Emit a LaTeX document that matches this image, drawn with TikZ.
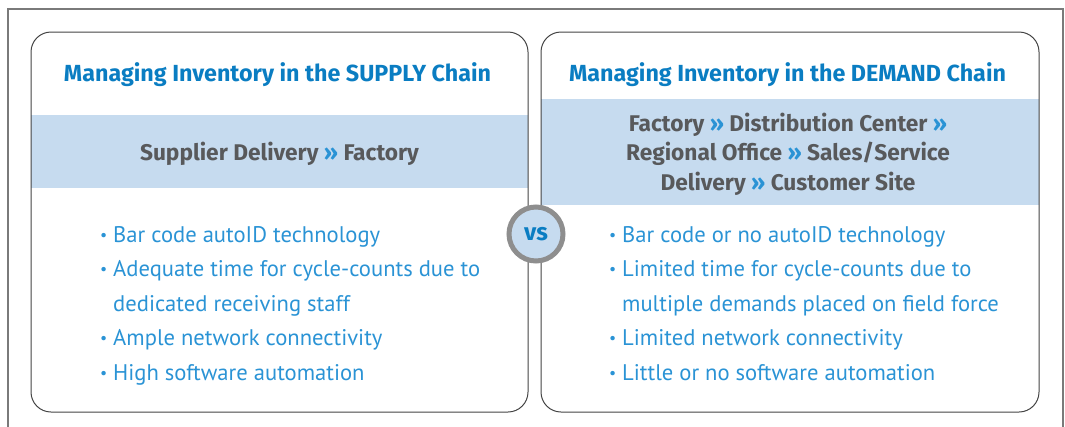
\documentclass[tikz,border=0pt]{standalone}
\usepackage{fontspec}
\usepackage{graphicx}
\setmainfont{PT Sans}
\newfontfamily\headfont{Fira Sans}
\definecolor{titleblue}{HTML}{0A7DC2}
\definecolor{itemblue}{HTML}{2A93D5}
\definecolor{bandblue}{HTML}{C6DBEF}
\definecolor{darktext}{HTML}{58595B}
\definecolor{framegray}{HTML}{7A7A7A}
\definecolor{panelline}{HTML}{444444}
\definecolor{ringgray}{HTML}{8E8E8E}
\newcommand{\chev}{\textcolor{itemblue}{»}}
\newcommand{\bul}{\llap{\raisebox{2pt}{\scalebox{0.7}{•}}\hspace{6pt}}}
\tikzset{
  panel/.style={draw=panelline, line width=1pt, rounded corners=20pt},
  title/.style={font=\headfont\fontsize{23.3}{26}\selectfont\bfseries, text=titleblue, inner sep=0pt, anchor=base},
  route/.style={font=\headfont\fontsize{22.7}{29.5}\selectfont\bfseries, text=darktext, inner sep=0pt, align=center, anchor=base},
  items/.style={font=\fontsize{22.6}{34.4}\selectfont, text=itemblue, inner sep=0pt, align=left, anchor=base west},
  vs/.style={circle, fill=bandblue, draw=ringgray, line width=5pt, minimum size=54pt, inner sep=0pt,
    font=\headfont\fontsize{24}{26}\selectfont\bfseries, text=titleblue}
}
\begin{document}
\begin{tikzpicture}[x=1pt, y=-1pt]
  \useasboundingbox (0,0) rectangle (1065,426);
  % outer frame, open at the bottom
  \draw[framegray, line width=1.5pt] (8,430) -- (8,9) -- (1063,9) -- (1063,430);
  % coloured route bands
  \fill[bandblue] (31,115) rectangle (528,188);
  \fill[bandblue] (541,99) rectangle (1039,205);
  % panels
  \draw[panel] (31,32) rectangle (528,412);
  \draw[panel] (541,32) rectangle (1039,412);
  % titles
  \node[title] (supplytitle) at (277.5,81) {Managing Inventory in the SUPPLY Chain};
  \node[title] (demandtitle) at (787.5,81) {Managing Inventory in the DEMAND Chain};
  % routes (base anchor sits on the last line)
  \node[route] (supplyroute) at (279.5,160) {Supplier Delivery \chev{} Factory};
  \node[route] (demandroute) at (788,190) {Factory \chev{} Distribution Center \chev\\
    Regional Office \chev{} Sales/Service\\ Delivery \chev{} Customer Site};
  % item lists
  \node[items] (supplyitems) at (113,380) {\bul Bar code autoID technology\\
    \bul Adequate time for cycle-counts due to\\
    dedicated receiving staff\\
    \bul Ample network connectivity\\
    \bul High software automation};
  \node[items] (demanditems) at (622,380) {\bul Bar code or no autoID technology\\
    \bul Limited time for cycle-counts due to\\
    multiple demands placed on field force\\
    \bul Limited network connectivity\\
    \bul Little or no software automation};
  % versus badge
  \node[vs] (versus) at (536,234) {vs};
\end{tikzpicture}
\end{document}
